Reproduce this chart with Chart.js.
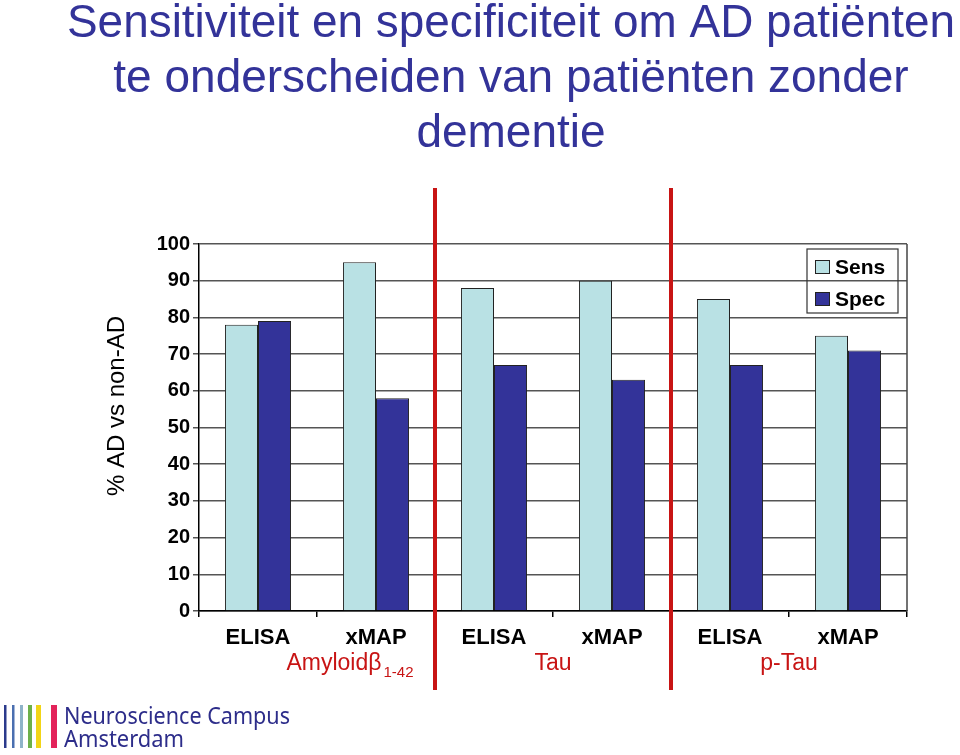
<!DOCTYPE html>
<html><head><meta charset="utf-8">
<script src="https://cdn.jsdelivr.net/npm/chart.js@4/dist/chart.umd.min.js"></script>
<style>html,body{margin:0;padding:0;background:#fff}#wrap{width:960px;height:755px;position:relative}</style>
</head><body><div id="wrap"><canvas id="c" width="960" height="755"></canvas></div>
<script>
const categories = ['ELISA', 'xMAP', 'ELISA', 'xMAP', 'ELISA', 'xMAP'];
const groupNames = ['Amyloidβ', 'Tau', 'p-Tau'];
const groupSubscripts = ['1-42', '', ''];
const seriesNames = ['Sens', 'Spec'];
const sensValues = [78, 95, 88, 90, 85, 75];
const specValues = [79, 58, 67, 63, 67, 71];
const yTicks = [0, 10, 20, 30, 40, 50, 60, 70, 80, 90, 100];
const titleLines = ['Sensitiviteit en specificiteit om AD patiënten', 'te onderscheiden van patiënten zonder', 'dementie'];
const yTitle = '% AD vs non-AD';
const logoLines = ['Neuroscience Campus', 'Amsterdam'];

const SENS_COLOR = '#b9e1e4';
const SPEC_COLOR = '#333399';
const TITLE_COLOR = '#333399';
const RED = '#c81414';
const FONT = '"Liberation Sans", Arial, sans-serif';

const extras = {
  id: 'extras',
  beforeDraw(chart) {
    const ctx = chart.ctx;
    ctx.save();
    ctx.fillStyle = '#fff';
    ctx.fillRect(0, 0, chart.width, chart.height);
    ctx.restore();
  },
  afterDraw(chart) {
    const ctx = chart.ctx;
    const ca = chart.chartArea;
    const xs = chart.scales.x;
    ctx.save();
    // title
    ctx.fillStyle = TITLE_COLOR;
    ctx.font = '46px ' + FONT;
    ctx.textAlign = 'center';
    ctx.textBaseline = 'alphabetic';
    const tY = [37, 92, 147];
    const tW = [888, 800, 190];
    titleLines.forEach((t, i) => ctx.fillText(t, 511, tY[i], tW[i]));
    // y title
    ctx.save();
    ctx.translate(117, 406);
    ctx.rotate(-Math.PI / 2);
    ctx.fillStyle = '#000';
    ctx.font = '24px ' + FONT;
    ctx.textBaseline = 'middle';
    ctx.fillText(yTitle, 0, 0);
    ctx.restore();
    // right border
    ctx.strokeStyle = '#444';
    ctx.lineWidth = 1.5;
    ctx.beginPath();
    ctx.moveTo(ca.right, ca.top);
    ctx.lineTo(ca.right, ca.bottom);
    ctx.stroke();
    // red separators between groups
    ctx.strokeStyle = RED;
    ctx.lineWidth = 4;
    for (let g = 1; g < groupNames.length; g++) {
      const x = (xs.getPixelForValue(2 * g - 1) + xs.getPixelForValue(2 * g)) / 2;
      ctx.beginPath();
      ctx.moveTo(x, ca.top - 56);
      ctx.lineTo(x, ca.bottom + 79);
      ctx.stroke();
    }
    // group labels
    ctx.fillStyle = RED;
    ctx.textBaseline = 'alphabetic';
    groupNames.forEach((name, g) => {
      let cx = (xs.getPixelForValue(2 * g) + xs.getPixelForValue(2 * g + 1)) / 2;
      const sub = groupSubscripts[g];
      ctx.font = '23px ' + FONT;
      const w1 = ctx.measureText(name).width;
      ctx.font = '15px ' + FONT;
      const w2 = sub ? ctx.measureText(sub).width + 2 : 0;
      if (sub) cx += 33;
      const x0 = cx - (w1 + w2) / 2;
      ctx.textAlign = 'left';
      ctx.font = '23px ' + FONT;
      ctx.fillText(name, x0, 670);
      if (sub) {
        ctx.font = '15px ' + FONT;
        ctx.fillText(sub, x0 + w1 + 2, 677);
      }
    });
    // legend
    const lx = 807, ly = 249, lw = 91, lh = 64;
    ctx.strokeStyle = '#333';
    ctx.lineWidth = 1.2;
    ctx.strokeRect(lx, ly, lw, lh);
    const colors = [SENS_COLOR, SPEC_COLOR];
    seriesNames.forEach((n, i) => {
      const sy = 260 + i * 32;
      ctx.fillStyle = colors[i];
      ctx.fillRect(815, sy, 15, 14);
      ctx.strokeStyle = '#222';
      ctx.lineWidth = 1;
      ctx.strokeRect(815.5, sy + 0.5, 14, 13);
      ctx.fillStyle = '#000';
      ctx.font = 'bold 21px ' + FONT;
      ctx.textAlign = 'left';
      ctx.textBaseline = 'middle';
      ctx.fillText(n, 835, sy + 8);
    });
    // logo
    const bars = [[4, 2.5, '#2b3a8c'], [12, 2.5, '#4a6fb0'], [20, 3, '#8fb3c8'], [28, 4, '#6db04a'], [36, 5, '#f2d516'], [51, 6, '#e3235a']];
    bars.forEach(([x, w, c]) => { ctx.fillStyle = c; ctx.fillRect(x, 705, w, 43); });
    ctx.fillStyle = '#2d2d8a';
    ctx.font = '23px "Noto Sans", sans-serif';
    ctx.textAlign = 'left';
    ctx.textBaseline = 'alphabetic';
    ctx.fillText(logoLines[0], 64, 724, 226);
    ctx.fillText(logoLines[1], 64, 747, 120);
    ctx.restore();
  }
};

new Chart(document.getElementById('c'), {
  type: 'bar',
  data: {
    labels: categories,
    datasets: [
      { label: seriesNames[0], data: sensValues, backgroundColor: SENS_COLOR, borderColor: '#222', borderWidth: 1, borderSkipped: 'bottom' },
      { label: seriesNames[1], data: specValues, backgroundColor: SPEC_COLOR, borderColor: '#222', borderWidth: 1, borderSkipped: 'bottom' }
    ]
  },
  options: {
    responsive: false,
    animation: false,
    devicePixelRatio: 1,
    layout: { padding: { left: 100, right: 53, top: 244, bottom: 104 } },
    plugins: { legend: { display: false }, title: { display: false }, tooltip: { enabled: false } },
    datasets: { bar: { categoryPercentage: 0.56, barPercentage: 1.0 } },
    scales: {
      x: {
        offset: true,
        grid: { offset: true, drawOnChartArea: false, tickLength: 6, color: '#000', lineWidth: 1.5 },
        border: { display: true, color: '#000', width: 1.5 },
        ticks: { color: '#000', font: { family: FONT, size: 22, weight: 'bold' }, padding: 8, maxRotation: 0 },
        afterFit(s) { s.height = 40; }
      },
      y: {
        min: 0, max: 100,
        afterBuildTicks(s) { s.ticks = yTicks.map(v => ({ value: v })); },
        grid: { color: '#555', lineWidth: 1.5, tickLength: 6 },
        border: { display: true, color: '#000', width: 1.5 },
        ticks: { color: '#000', font: { family: FONT, size: 20, weight: 'bold' }, padding: 3 },
        afterFit(s) { s.width = 99; }
      }
    }
  },
  plugins: [extras]
});
</script></body></html>
